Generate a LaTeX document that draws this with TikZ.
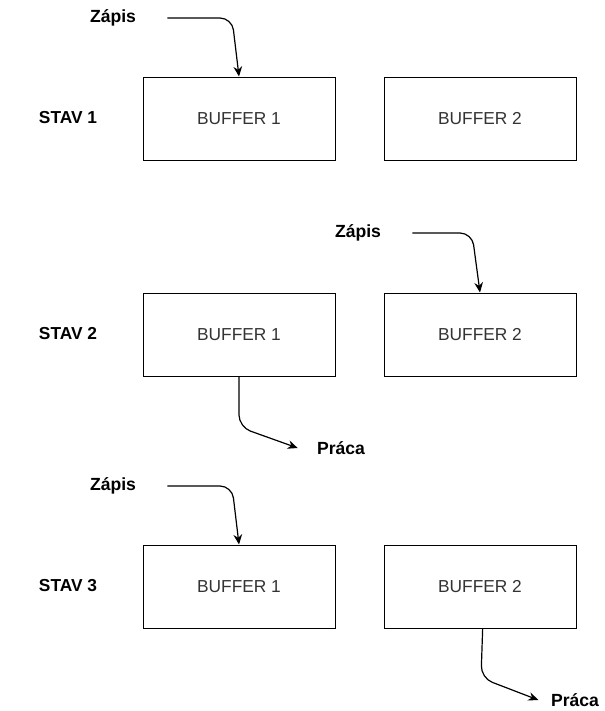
\documentclass[tikz,border=0pt]{standalone}
\usepackage{fontspec}
\setmainfont{Liberation Sans}
\usetikzlibrary{positioning,arrows.meta}

\begin{document}
\begin{tikzpicture}[x=0.75pt, y=-0.75pt, node distance=36pt,
    buffer/.style={rectangle, draw, line width=0.75pt, minimum width=144pt, minimum height=62.25pt, font=\fontsize{13}{15}\selectfont, text=black!80},
    stav/.style={font=\bfseries\fontsize{13}{15}\selectfont},
    tag/.style={font=\bfseries\fontsize{13.2}{15}\selectfont},
    arrow/.style={-{Stealth[length=7.5pt,width=6.5pt]}, line width=0.9pt, rounded corners=9pt}]

    \useasboundingbox (0,0) rectangle (605,711);

    % stav 1: zapis do buffera 1
    \node[stav] (s1) at (68,118) {STAV 1};
    \node[buffer] (b11) at (239,118.5) {BUFFER 1};
    \node[buffer, right=of b11] (b12) {BUFFER 2};
    \node[tag] (z1) at (113,18) {Zápis};
    \draw[arrow] ([xshift=20pt]z1.east) -- (232,18) -- (b11.north);

    % stav 2: zapis do buffera 2, praca s bufferom 1
    \node[stav] (s2) at (68,334) {STAV 2};
    \node[buffer] (b21) at (239,334.5) {BUFFER 1};
    \node[buffer, right=of b21] (b22) {BUFFER 2};
    \node[tag] (z2) at (358,233) {Zápis};
    \node[tag] (p2) at (341,448) {Práca};
    \draw[arrow] (z2.east) ++(20pt,0) -- (472,233) -- (b22.north);
    \draw[arrow] (b21.south) -- (239,427) -- ([xshift=-11pt]p2.west);

    % stav 3: zapis do buffera 1, praca s bufferom 2
    \node[stav] (s3) at (68,586) {STAV 3};
    \node[buffer] (b31) at (239,586.5) {BUFFER 1};
    \node[buffer, right=of b31] (b32) {BUFFER 2};
    \node[tag] (z3) at (113,486) {Zápis};
    \node[tag] (p3) at (575,700) {Práca};
    \draw[arrow] ([xshift=20pt]z3.east) -- (232,486) -- (b31.north);
    \draw[arrow] ([xshift=2pt]b32.south) -- (481,678) -- ([xshift=-6pt]p3.west);
\end{tikzpicture}
\end{document}
